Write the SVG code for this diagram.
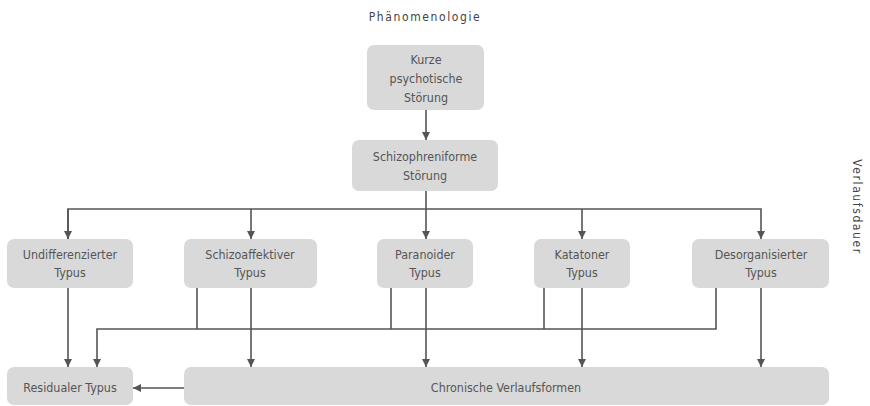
<svg xmlns="http://www.w3.org/2000/svg" width="870" height="406" viewBox="0 0 870 406">
<style>
.box{fill:#d9d9d9;}
.t{font-family:"DejaVu Sans Condensed","Liberation Sans",sans-serif;font-size:12.4px;fill:#555;text-anchor:middle;}
.h{font-family:"DejaVu Sans Condensed","Liberation Sans",sans-serif;font-size:12px;fill:#444;text-anchor:middle;letter-spacing:1.6px;}
.c{stroke:#555;stroke-width:1.6;fill:none;}
</style>
<defs>
<marker id="a" viewBox="0 0 10 10" refX="10" refY="5" markerWidth="8" markerHeight="8" orient="auto" markerUnits="userSpaceOnUse">
<path d="M0,0 L10,5 L0,10 z" fill="#555"/>
</marker>
</defs>
<rect width="870" height="406" fill="#fff"/>
<text class="h" x="425" y="21">Phänomenologie</text>
<text class="h" transform="translate(853,207) rotate(90)">Verlaufsdauer</text>
<g id="connectors">
<path class="c" d="M426,110 V140" marker-end="url(#a)"/>
<path class="c" d="M426,191 V239" marker-end="url(#a)"/>
<path class="c" d="M68,239 V209 H761 V239" marker-end="url(#a)"/>
<path class="c" d="M68,209 V239" marker-end="url(#a)"/>
<path class="c" d="M251,209 V239" marker-end="url(#a)"/>
<path class="c" d="M582,209 V239" marker-end="url(#a)"/>
<path class="c" d="M68,288 V367" marker-end="url(#a)"/>
<path class="c" d="M251,288 V367" marker-end="url(#a)"/>
<path class="c" d="M426,288 V367" marker-end="url(#a)"/>
<path class="c" d="M582,288 V367" marker-end="url(#a)"/>
<path class="c" d="M761,288 V367" marker-end="url(#a)"/>
<path class="c" d="M197,288 V329"/>
<path class="c" d="M391,288 V329"/>
<path class="c" d="M544,288 V329"/>
<path class="c" d="M716,288 V329 H97 V367" marker-end="url(#a)"/>
<path class="c" d="M184,388 H133" marker-end="url(#a)"/>
</g>
<g id="n1"><rect class="box" x="367" y="45" width="117" height="65" rx="7"/>
<text class="t" x="426" y="64">Kurze</text><text class="t" x="426" y="83">psychotische</text><text class="t" x="426" y="102">Störung</text></g>
<g id="n2"><rect class="box" x="352" y="140" width="146" height="51" rx="7"/>
<text class="t" x="425" y="161">Schizophreniforme</text><text class="t" x="425" y="180">Störung</text></g>
<g id="n3"><rect class="box" x="7" y="239" width="126" height="49" rx="7"/>
<text class="t" x="70" y="259">Undifferenzierter</text><text class="t" x="70" y="277">Typus</text></g>
<g id="n4"><rect class="box" x="184" y="239" width="133" height="49" rx="7"/>
<text class="t" x="250" y="259">Schizoaffektiver</text><text class="t" x="250" y="277">Typus</text></g>
<g id="n5"><rect class="box" x="377" y="239" width="96" height="49" rx="7"/>
<text class="t" x="425" y="259">Paranoider</text><text class="t" x="425" y="277">Typus</text></g>
<g id="n6"><rect class="box" x="534" y="239" width="96" height="49" rx="7"/>
<text class="t" x="582" y="259">Katatoner</text><text class="t" x="582" y="277">Typus</text></g>
<g id="n7"><rect class="box" x="692" y="239" width="137" height="49" rx="7"/>
<text class="t" x="761" y="259">Desorganisierter</text><text class="t" x="761" y="277">Typus</text></g>
<g id="n8"><rect class="box" x="7" y="367" width="126" height="38" rx="7"/>
<text class="t" x="70" y="392">Residualer Typus</text></g>
<g id="n9"><rect class="box" x="184" y="367" width="645" height="38" rx="7"/>
<text class="t" x="506" y="392">Chronische Verlaufsformen</text></g>
</svg>
